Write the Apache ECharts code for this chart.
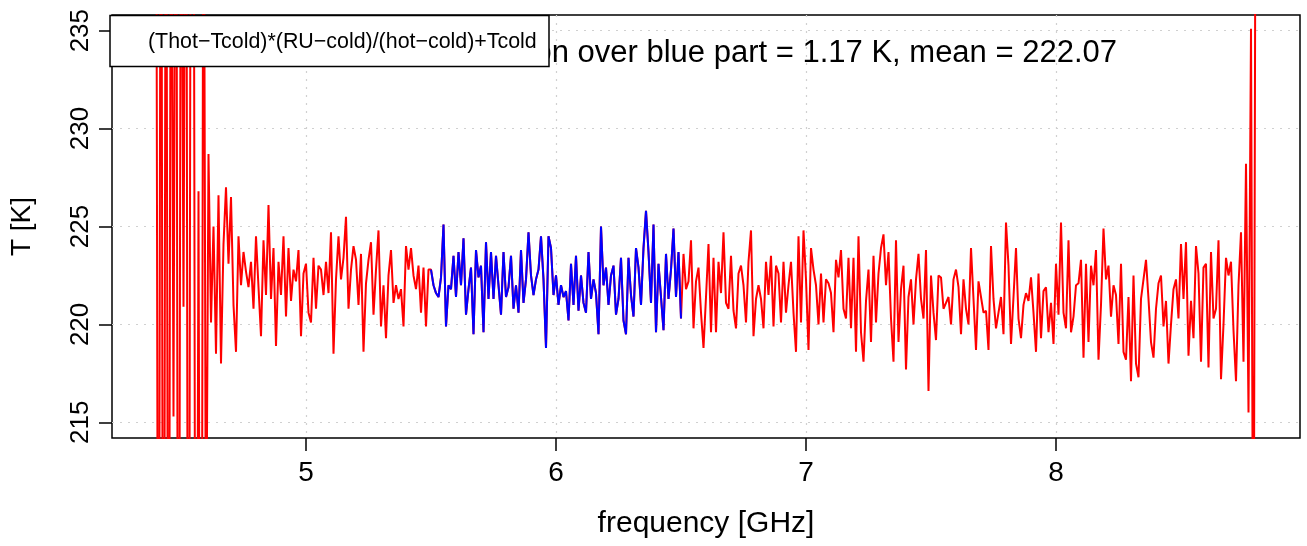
<!DOCTYPE html>
<html lang="en">

<head>
  <meta charset="UTF-8">
  <title>T [K] vs frequency</title>
  <style>
    html, body { margin: 0; padding: 0; background: #fff; }
    #main { width: 1307px; height: 546px; }
  </style>
</head>

<body>
  <div id="main"></div>
  <script src="https://cdn.jsdelivr.net/npm/echarts@6/dist/echarts.min.js"></script>
  <script>
    // frequency grid: start and step in GHz
    const freqStart = 4.40;
    const freqStep = 0.01;

    // temperatures, in order of frequency
    // left band edge, values run far off the scale
    const tempEdgeLow = [252, 186, 258, 182, 255, 188, 250, 215.3, 256, 184, 250, 220.9, 256, 182, 255, 252, 180, 226.8, 178, 252, 205];
    // 4.61 .. 5.49
    const tempRedA = [228.7, 220.1, 225.0, 218.5, 226.6, 218.0, 224.1, 227.0, 223.1, 226.5, 221.0, 218.6, 224.5, 222.0, 223.7, 222.7, 221.9, 223.2, 220.8, 224.5,
      221.9, 219.4, 224.3, 221.5, 226.1, 221.3, 223.9, 218.9, 223.2, 221.5, 224.5, 220.4, 223.9, 221.2,
      222.8, 222.2, 223.8, 219.4, 222.6, 223.1, 220.6, 220.1, 223.4, 220.8, 223.0, 222.8, 221.5, 223.2, 221.6, 224.7, 218.5, 222.3, 224.5, 222.3,
      223.4, 225.5, 220.8, 222.8, 224.0, 223.3, 221.0, 223.6, 218.6, 222.1, 223.3, 224.2, 220.5, 222.8, 224.8, 219.9, 222.0, 219.3, 222.5, 223.8,
      221.1, 222.0, 221.3, 221.8, 219.9, 224.0, 222.8, 223.9, 222.5, 221.8, 223.0, 220.6, 222.9, 219.9, 222.8];
    // 5.50 .. 6.50 (blue part)
    const tempBlue = [222.8, 222.0, 221.6, 221.4, 222.4, 225.1, 219.9, 222.0, 221.8, 223.5, 221.4, 223.7, 222.0, 224.4, 220.5, 221.8, 222.9, 219.5, 223.8, 222.4,
      223.0, 219.6, 224.2, 221.3, 223.7, 221.3, 223.5, 222.0, 220.5, 223.7, 221.4, 221.9, 223.5, 220.8, 222.0, 220.6, 223.8, 221.1, 222.3, 224.7,
      222.5, 221.5, 222.3, 222.8, 224.5, 222.3, 218.8, 224.5, 223.9, 221.5, 222.5, 221.0, 222.0, 221.4, 221.7, 220.2, 223.1, 221.0, 223.5, 220.7,
      222.5, 221.1, 220.6, 223.7, 221.3, 222.3, 221.6, 219.5, 225.0, 222.0, 222.9, 221.0, 222.5, 223.0, 220.5, 221.3, 223.4, 220.2, 219.5, 223.4,
      221.5, 220.4, 223.9, 222.9, 221.0, 223.9, 225.8, 223.7, 221.1, 225.1, 219.6, 223.1, 221.4, 219.7, 223.6, 221.3, 222.8, 224.9, 221.4, 223.7,
      220.3];
    // 6.51 .. 7.81
    const tempRedB = [223.6, 221.8, 222.2, 224.3, 219.8, 222.2, 222.9, 220.6, 218.8, 221.4, 224.1, 219.6, 223.4, 219.6, 223.2, 221.6, 224.7,
      221.1, 220.8, 223.5, 220.7, 219.8, 222.6, 223.0, 222.0, 220.1, 223.2, 224.8, 219.4, 221.3, 222.0, 221.3, 219.8, 223.2, 221.5, 223.5, 219.9,
      223.0, 222.6, 220.1, 223.2, 220.6, 222.0, 223.2, 220.6, 218.6, 224.5, 220.1, 224.8, 222.3, 218.7, 223.9, 222.8, 222.0, 220.0, 222.6, 220.1,
      222.3, 222.1, 221.6, 219.6, 223.3, 222.4, 223.8, 220.8, 220.3, 223.4, 219.8, 223.4, 218.6, 224.5, 219.6, 218.1, 221.2, 222.8,
      219.1, 223.5, 220.1, 222.6, 223.9, 224.6, 222.0, 223.7, 220.3, 218.1, 224.3, 219.1, 221.8, 223.0, 217.7, 221.4, 222.3, 220.0, 222.3, 223.6,
      221.3, 220.3, 223.8, 216.6, 222.5, 220.6, 219.2, 222.5, 222.4, 220.8, 221.1, 221.4, 220.0, 222.3, 222.8, 221.9, 219.5, 222.3, 220.8, 220.0,
      223.9, 221.3, 218.7, 222.2, 221.4, 220.6, 220.7, 218.7, 224.0, 221.3, 219.8, 220.6, 221.4, 219.5, 225.2, 223.0];
    // 7.82 .. 8.75
    const tempRedC = [219.0, 221.4, 223.9, 220.3, 219.3, 221.0, 221.6, 221.2, 222.4, 220.6, 218.6, 222.6, 219.3, 221.7, 221.9, 219.6, 221.1, 219.0, 223.1, 220.5,
      225.2, 220.6, 219.8, 224.3, 219.6, 220.4, 222.0, 222.1, 223.3, 218.3, 223.1, 219.1, 223.0, 222.0, 223.8, 218.2, 221.0, 224.9, 222.3, 223.0,
      220.4, 222.0, 221.5, 219.0, 223.1, 218.6, 218.2, 221.4, 217.1, 222.5, 218.0, 217.3, 221.3, 222.3, 223.3, 221.3, 219.1, 218.3,
      220.8, 222.1, 222.5, 219.9, 221.2, 218.0, 220.0, 221.8, 222.3, 220.3, 224.1, 221.3, 224.2, 218.4, 221.2, 219.3, 224.0, 222.6, 218.1, 222.9,
      223.1, 217.8, 223.7, 220.3, 220.8, 224.3, 217.2, 220.0, 223.4, 222.5, 223.2, 219.7, 217.1, 222.0, 224.7, 218.1];
    // right band edge
    const tempEdgeHigh = [228.2, 215.5, 235.1, 200, 255];

    const blueRange = [5.50, 6.50];
    const xTicks = [5, 6, 7, 8];
    const yTicks = [215, 220, 225, 230, 235];

    const font = 'Liberation Sans, Arial, Helvetica, sans-serif';

    const temps = [].concat(tempEdgeLow, tempRedA, tempBlue, tempRedB, tempRedC, tempEdgeHigh);
    const redData = temps.map((t, i) => [+(freqStart + i * freqStep).toFixed(2), t]);
    const blueData = redData.filter(p => p[0] >= blueRange[0] && p[0] <= blueRange[1]);

    const myChart = echarts.init(document.getElementById('main'));

    // dotted light grey grid, like grid() in R
    const gridLine = { show: true, lineStyle: { color: '#d0d0d0', width: 1.2, type: [2, 6] } };

    const option = {
      animation: false,
      backgroundColor: '#fff',
      grid: {
        left: 110, right: 7, top: 15, bottom: 108,
        show: true, borderColor: '#000', borderWidth: 1.5, backgroundColor: 'transparent'
      },
      xAxis: {
        type: 'value',
        min: 4.224,
        max: 8.976,
        axisLine: { show: false },
        axisTick: { customValues: xTicks, length: 13, lineStyle: { color: '#000', width: 1.5 } },
        axisLabel: { customValues: xTicks, fontSize: 28, color: '#000', margin: 21, fontFamily: font },
        splitLine: gridLine,
        name: 'frequency [GHz]',
        nameLocation: 'middle',
        nameGap: 71,
        nameTextStyle: { fontSize: 30, color: '#000', fontFamily: font }
      },
      yAxis: {
        type: 'value',
        min: 214.2,
        max: 235.8,
        axisLine: { show: false },
        axisTick: { customValues: yTicks, length: 13, lineStyle: { color: '#000', width: 1.5 } },
        axisLabel: { customValues: yTicks, rotate: 90, fontSize: 26, color: '#000', margin: 18, fontFamily: font },
        splitLine: gridLine,
        name: 'T [K]',
        nameLocation: 'middle',
        nameRotate: 90,
        nameGap: 76,
        nameTextStyle: { fontSize: 28, color: '#000', fontFamily: font }
      },
      series: [
        {
          type: 'line', data: redData, symbol: 'none', clip: true, z: 2,
          lineStyle: { color: '#ff0000', width: 2 }
        },
        {
          type: 'line', data: blueData, symbol: 'none', clip: true, z: 3,
          lineStyle: { color: '#0000ff', width: 2 }
        }
      ],
      graphic: [
        // title line, its start is hidden under the legend box
        {
          type: 'text', right: 1307 - 1117, top: 38, z: 50,
          style: { text: 'standard deviation over blue part = 1.17 K, mean = 222.07', fontSize: 31, fill: '#000', fontFamily: font }
        },
        {
          type: 'rect', z: 100,
          shape: { x: 110, y: 15.5, width: 439, height: 51 },
          style: { fill: '#fff', stroke: '#000', lineWidth: 1.5 }
        },
        {
          type: 'text', x: 148, y: 42, z: 101,
          style: { text: '(Thot\u2212Tcold)*(RU\u2212cold)/(hot\u2212cold)+Tcold', fontSize: 21.4, fill: '#000', fontFamily: font, verticalAlign: 'middle' }
        }
      ]
    };

    myChart.setOption(option);
  </script>
</body>

</html>
